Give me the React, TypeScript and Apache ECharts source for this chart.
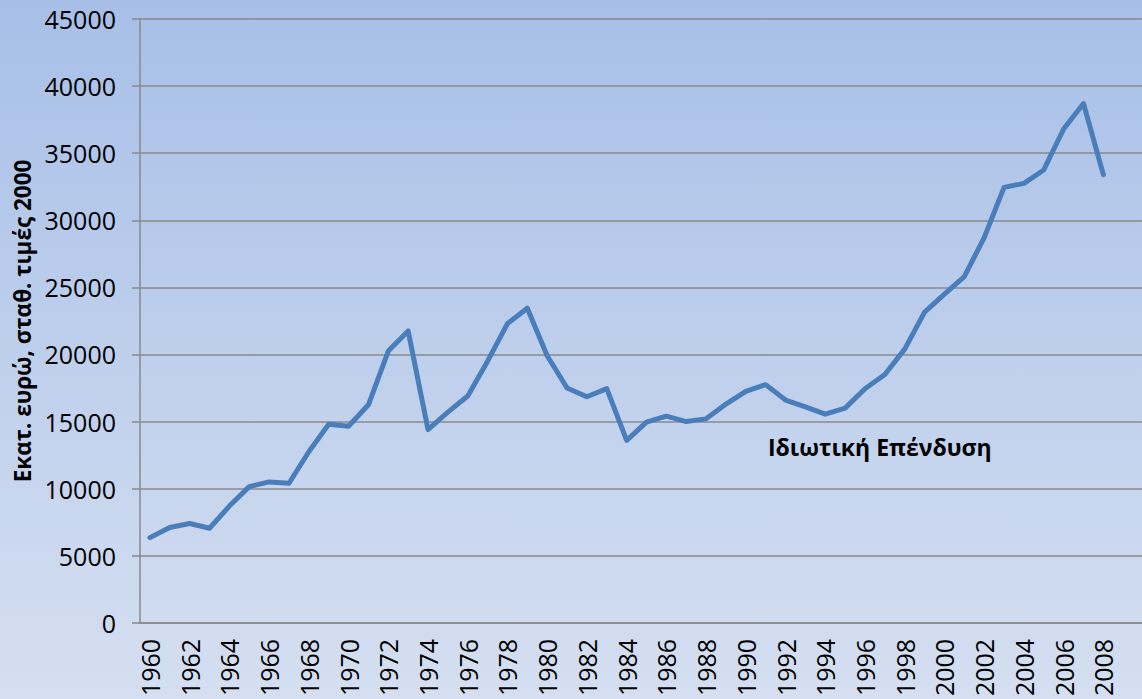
import React, { useEffect, useRef } from "react";
import * as echarts from "echarts";

const years: string[] = [];
for (let y = 1960; y <= 2010; y++) years.push(String(y));

const investment = [
  6350, 7100, 7400, 7050, 8700, 10150, 10500, 10400, 12750, 14800,
  14650, 16250, 20250, 21750, 14400, 15700, 16900, 19500, 22300, 23450,
  19900, 17500, 16850, 17450, 13600, 14950, 15400, 15000, 15200, 16300,
  17250, 17750, 16600, 16100, 15550, 16000, 17450, 18500, 20400, 23150,
  24500, 25800, 28700, 32450, 32750, 33750, 36800, 38700, 33400,
];

const yTitle = "Εκατ. ευρώ, σταθ. τιμές 2000";
const seriesLabel = "Ιδιωτική Επένδυση";

const FONT = "'Open Sans', 'Noto Sans', sans-serif";

export default function App() {
  const ref = useRef<HTMLDivElement>(null);
  useEffect(() => {
    if (!ref.current) return;
    const chart = echarts.init(ref.current, undefined, { renderer: "svg" });
    chart.setOption({
      animation: false,
      backgroundColor: new echarts.graphic.LinearGradient(0, 0, 0, 1, [
        { offset: 0, color: "#a7bfe7" },
        { offset: 1, color: "#d5dff1" },
      ]),
      grid: { left: 140, top: 19, bottom: 74, right: 0, containLabel: false },
      xAxis: {
        type: "category",
        data: years,
        boundaryGap: true,
        axisLine: { lineStyle: { color: "#8a8a8a", width: 1.5 } },
        axisTick: { interval: 0, length: 7, lineStyle: { color: "#8a8a8a", width: 1.5 } },
        axisLabel: {
          interval: (i: number) => i % 2 === 0 && i < 49,
          rotate: 90,
          margin: 16,
          color: "#000",
          fontFamily: FONT,
          fontSize: 25,
        },
        splitLine: { show: false },
      },
      yAxis: {
        type: "value",
        min: 0,
        max: 45000,
        interval: 5000,
        name: yTitle,
        nameLocation: "middle",
        nameGap: 102,
        nameTextStyle: { color: "#000", fontFamily: FONT, fontSize: 22.5, fontWeight: "bold" },
        axisLine: { show: true, lineStyle: { color: "#8a8a8a", width: 1.5 } },
        axisTick: { show: true, length: 8, lineStyle: { color: "#8a8a8a", width: 1.5 } },
        axisLabel: {
          color: "#000",
          fontFamily: FONT,
          fontSize: 25,
          margin: 24,
          formatter: (v: number) => String(v),
        },
        splitLine: { show: true, lineStyle: { color: "#8a8a8a", width: 1.5 } },
      },
      series: [
        {
          type: "line",
          name: seriesLabel,
          data: investment,
          symbol: "none",
          lineStyle: { color: "#4a7ebb", width: 5, cap: "round", join: "round" },
          z: 5,
        },
      ],
      graphic: [
        {
          type: "text",
          left: 768,
          top: 435,
          style: {
            text: seriesLabel,
            fill: "#000",
            font: `bold 23px ${FONT}`,
          },
        },
      ],
    });
    return () => chart.dispose();
  }, []);
  return (
    <div style={{ position: "absolute", left: 0, top: 0, width: 1142, height: 699, overflow: "hidden" }}>
      <div ref={ref} style={{ width: 1153, height: 699 }} />
    </div>
  );
}
